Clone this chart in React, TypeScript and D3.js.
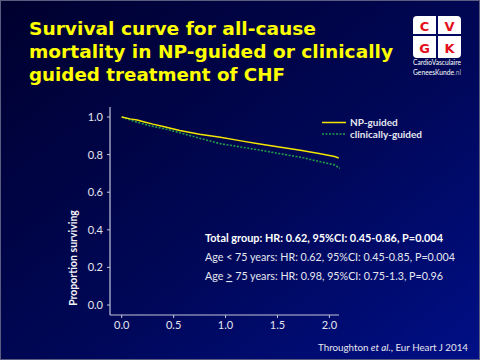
import React from 'react';
import * as d3 from 'd3';

// Kaplan-Meier readings (years, proportion surviving)
const npTimes = [0, 0.08, 0.15, 0.21, 0.3, 0.4, 0.56, 0.75, 0.95, 1.15, 1.33, 1.5, 1.72, 1.9, 2.05, 2.09];
const npValues = [1.0, 0.99, 0.984, 0.975, 0.962, 0.95, 0.928, 0.908, 0.892, 0.873, 0.856, 0.842, 0.823, 0.806, 0.79, 0.782];

const clinTimes = [0, 0.08, 0.15, 0.27, 0.47, 0.75, 0.95, 1.15, 1.33, 1.52, 1.75, 1.91, 2.05, 2.1];
const clinValues = [1.0, 0.985, 0.972, 0.954, 0.93, 0.887, 0.858, 0.84, 0.824, 0.805, 0.783, 0.762, 0.745, 0.727];

const xTicks = [0, 0.5, 1.0, 1.5, 2.0];
const yTicks = [0, 0.2, 0.4, 0.6, 0.8, 1.0];

const seriesNames = ['NP-guided', 'clinically-guided'];
const titleLines = ['Survival curve for all-cause', 'mortality in NP-guided or clinically', 'guided treatment of CHF'];
const statLines = [
  'Total group: HR: 0.62, 95%CI: 0.45-0.86, P=0.004',
  'Age < 75 years: HR: 0.62, 95%CI: 0.45-0.85, P=0.004',
  ' 75 years: HR: 0.98, 95%CI: 0.75-1.3, P=0.96',
];

const W = 480;
const H = 360;

const App: React.FC = () => {
  const x = d3.scaleLinear().domain([0, 2]).range([121.7, 329.4]);
  const y = d3.scaleLinear().domain([0, 1]).range([305, 117]);

  const line = d3
    .line<[number, number]>()
    .x((d) => x(d[0]))
    .y((d) => y(d[1]));

  const npData = npTimes.map((t, i) => [t, npValues[i]] as [number, number]);
  const clinData = clinTimes.map((t, i) => [t, clinValues[i]] as [number, number]);

  const axisColor = '#c4c6d8';
  const textColor = '#e6e6f0';
  const sans = 'Lato, "Open Sans", sans-serif';

  return (
    <svg width={W} height={H} style={{ position: 'absolute', left: 0, top: 0 }}>
      <defs>
        <linearGradient id="bg" x1="0" y1="0" x2="1" y2="1">
          <stop offset="0%" stopColor="#00002e" />
          <stop offset="55%" stopColor="#000756" />
          <stop offset="100%" stopColor="#000f86" />
        </linearGradient>
      </defs>
      <rect x={0.5} y={0.5} width={W - 1} height={H - 1} fill="url(#bg)" stroke="#5a5c80" />

      {/* title */}
      {titleLines.map((t, i) => (
        <text
          key={t}
          x={29}
          y={35 + i * 23}
          fill="#ffff00"
          fontFamily='"DejaVu Sans", Verdana, sans-serif'
          fontWeight="bold"
          fontSize={18}
          textLength={[287, 364, 256][i]}
          lengthAdjust="spacingAndGlyphs"
        >
          {t}
        </text>
      ))}

      {/* logo */}
      <g>
        <rect x={413} y={16} width={48} height={42} rx={4} fill="#ffffff" />
        <rect x={436} y={16} width={2} height={42} fill="#000a60" />
        <rect x={413} y={34} width={48} height={2} fill="#000a60" />
        {['C', 'V', 'G', 'K'].map((l, i) => (
          <text
            key={l}
            x={424.5 + (i % 2) * 25}
            y={31 + Math.floor(i / 2) * 22}
            textAnchor="middle"
            fill="#e3101c"
            fontFamily='"DejaVu Sans", sans-serif'
            fontWeight="bold"
            fontSize={13}
          >
            {l}
          </text>
        ))}
        <text x={437} y={65} textAnchor="middle" fill="#ffffff" fontFamily={sans} fontSize={6.8} textLength={48} lengthAdjust="spacingAndGlyphs">
          CardioVasculaire
        </text>
        <text x={437} y={74.5} textAnchor="middle" fontFamily={sans} fontSize={6.8} textLength={48} lengthAdjust="spacingAndGlyphs">
          <tspan fill="#ffffff">GeneesKunde</tspan>
          <tspan fill="#a8aac0">.nl</tspan>
        </text>
      </g>

      {/* axes */}
      <line x1={110} x2={110} y1={107} y2={315} stroke={axisColor} strokeWidth={1.2} />
      <line x1={110} x2={339} y1={315} y2={315} stroke={axisColor} strokeWidth={1.2} />
      {yTicks.map((t) => (
        <g key={`y${t}`}>
          <line x1={107} x2={110} y1={y(t)} y2={y(t)} stroke={axisColor} />
          <text x={103} y={y(t) + 4} textAnchor="end" fill={textColor} fontFamily={sans} fontSize={11}>
            {t.toFixed(1)}
          </text>
        </g>
      ))}
      {xTicks.map((t) => (
        <g key={`x${t}`}>
          <line x1={x(t)} x2={x(t)} y1={315} y2={318} stroke={axisColor} />
          <text x={x(t)} y={329} textAnchor="middle" fill={textColor} fontFamily={sans} fontSize={11}>
            {t.toFixed(1)}
          </text>
        </g>
      ))}
      <text
        transform="translate(77,258) rotate(-90)"
        textAnchor="middle"
        fill="#f2f2f8"
        fontFamily={sans}
        fontWeight="bold"
        fontSize={10.5}
      >
        Proportion surviving
      </text>

      {/* curves */}
      <path d={line(clinData) ?? ''} fill="none" stroke="#1f9d4c" strokeWidth={1.6} strokeDasharray="2,1.5" />
      <path d={line(npData) ?? ''} fill="none" stroke="#f2e600" strokeWidth={1.5} />

      {/* legend */}
      <line x1={322} x2={346} y1={122.5} y2={122.5} stroke="#f2e600" strokeWidth={1.5} />
      <line x1={322} x2={346} y1={134} y2={134} stroke="#1f9d4c" strokeWidth={1.6} strokeDasharray="2,1.5" />
      {seriesNames.map((s, i) => (
        <text key={s} x={350} y={126 + i * 11.5} fill={textColor} fontFamily={sans} fontWeight="bold" fontSize={10}>
          {s}
        </text>
      ))}

      {/* statistics */}
      <text x={205} y={242} fill="#ffffff" fontFamily={sans} fontWeight="bold" fontSize={11} textLength={238} lengthAdjust="spacingAndGlyphs">
        {statLines[0]}
      </text>
      <text x={205} y={261} fill={textColor} fontFamily={sans} fontSize={11} textLength={250} lengthAdjust="spacingAndGlyphs">
        {statLines[1]}
      </text>
      <text x={205} y={280} fill={textColor} fontFamily={sans} fontSize={11} textLength={238} lengthAdjust="spacingAndGlyphs">
        <tspan>Age </tspan>
        <tspan textDecoration="underline">&gt;</tspan>
        <tspan>{statLines[2]}</tspan>
      </text>

      {/* citation */}
      <text x={318} y={351} fill={textColor} fontFamily={sans} fontSize={10} textLength={150} lengthAdjust="spacingAndGlyphs">
        <tspan>Throughton </tspan>
        <tspan fontStyle="italic">et al.</tspan>
        <tspan>, Eur Heart J 2014</tspan>
      </text>
    </svg>
  );
};

export default App;
